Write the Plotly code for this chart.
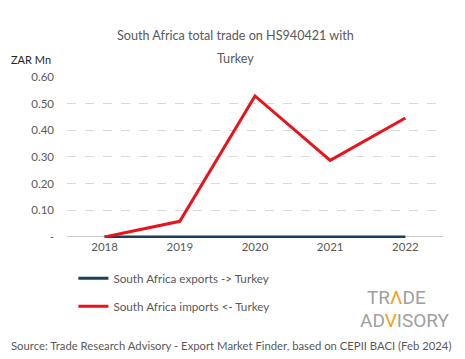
import plotly.graph_objects as go

years = ["2018", "2019", "2020", "2021", "2022"]
exports_zar_mn = [0.0, 0.0, 0.0, 0.0, 0.0]
imports_zar_mn = [0.0, 0.0585, 0.529, 0.287, 0.446]
tick_vals = [0, 0.1, 0.2, 0.3, 0.4, 0.5, 0.6]
tick_text = ["-", "0.10", "0.20", "0.30", "0.40", "0.50", "0.60"]

FONT = "Lato"
GRAY = "#595959"
fig = go.Figure()
fig.add_trace(go.Scatter(x=years, y=exports_zar_mn, mode="lines",
                         name="South Africa exports -> Turkey", legendgroup="a",
                         line=dict(color="#1b3f5a", width=3)))
fig.add_trace(go.Scatter(x=years, y=imports_zar_mn, mode="lines",
                         name="South Africa imports <- Turkey", legendgroup="b",
                         line=dict(color="#e8141c", width=3)))

# page body has an 8px margin, so the figure is 8px smaller and shifted
fig.update_layout(
    width=457, height=351,
    margin=dict(l=59, r=22, t=69, b=121, autoexpand=False),
    paper_bgcolor="white", plot_bgcolor="white",
    font=dict(family=FONT, color=GRAY, size=11),
    showlegend=True,
    legend=dict(x=0.017, y=-0.16, xanchor="left", yanchor="top",
                orientation="v", tracegroupgap=9,
                font=dict(size=11.7, color=GRAY), bgcolor="rgba(0,0,0,0)"),
    xaxis=dict(type="category", showgrid=False, showline=False, ticks="",
               tickfont=dict(size=11.5, color=GRAY), range=[-0.5, 4.5]),
    yaxis=dict(range=[-0.004, 0.6], tickvals=tick_vals, ticktext=tick_text,
               showgrid=True, gridcolor="#d9d9d9", griddash="dash", gridwidth=1,
               zeroline=True, zerolinecolor="#c8c8c8", zerolinewidth=1,
               showline=False, ticks="", ticklabelstandoff=12,
               tickfont=dict(size=11.5, color=GRAY)),
)
fig.add_annotation(text="South Africa total trade on HS940421 with", xref="paper", yref="paper",
                   x=0.447, y=1.255, xanchor="center", yanchor="middle", showarrow=False,
                   font=dict(size=12.6, color=GRAY))
fig.add_annotation(text="Turkey", xref="paper", yref="paper",
                   x=0.447, y=1.118, xanchor="center", yanchor="middle", showarrow=False,
                   font=dict(size=12.6, color=GRAY))
fig.add_annotation(text="ZAR Mn", xref="paper", yref="paper", x=-0.155, y=1.106,
                   xanchor="left", yanchor="middle", showarrow=False,
                   font=dict(size=11, color="#262626"))
fig.add_annotation(text="Source: Trade Research Advisory - Export Market Finder, based on CEPII BACI (Feb 2024)",
                   xref="paper", yref="paper", x=-0.155, y=-0.665, xanchor="left", yanchor="middle",
                   showarrow=False, font=dict(size=11.3, color=GRAY))
fig.add_annotation(text="TR<span style='color:#f0a020'>Λ</span>DE", xref="paper", yref="paper",
                   x=0.793, y=-0.372, xanchor="left", yanchor="middle", showarrow=False,
                   font=dict(size=19, color="#a0a0a0", family="Liberation Sans Narrow, Roboto"))
fig.add_annotation(text="AD<span style='color:#f0a020'>V</span>ISORY", xref="paper", yref="paper",
                   x=1.024, y=-0.512, xanchor="right", yanchor="middle", showarrow=False,
                   font=dict(size=19, color="#a0a0a0", family="Liberation Sans Narrow, Roboto"))

fig.write_html("out.html")
